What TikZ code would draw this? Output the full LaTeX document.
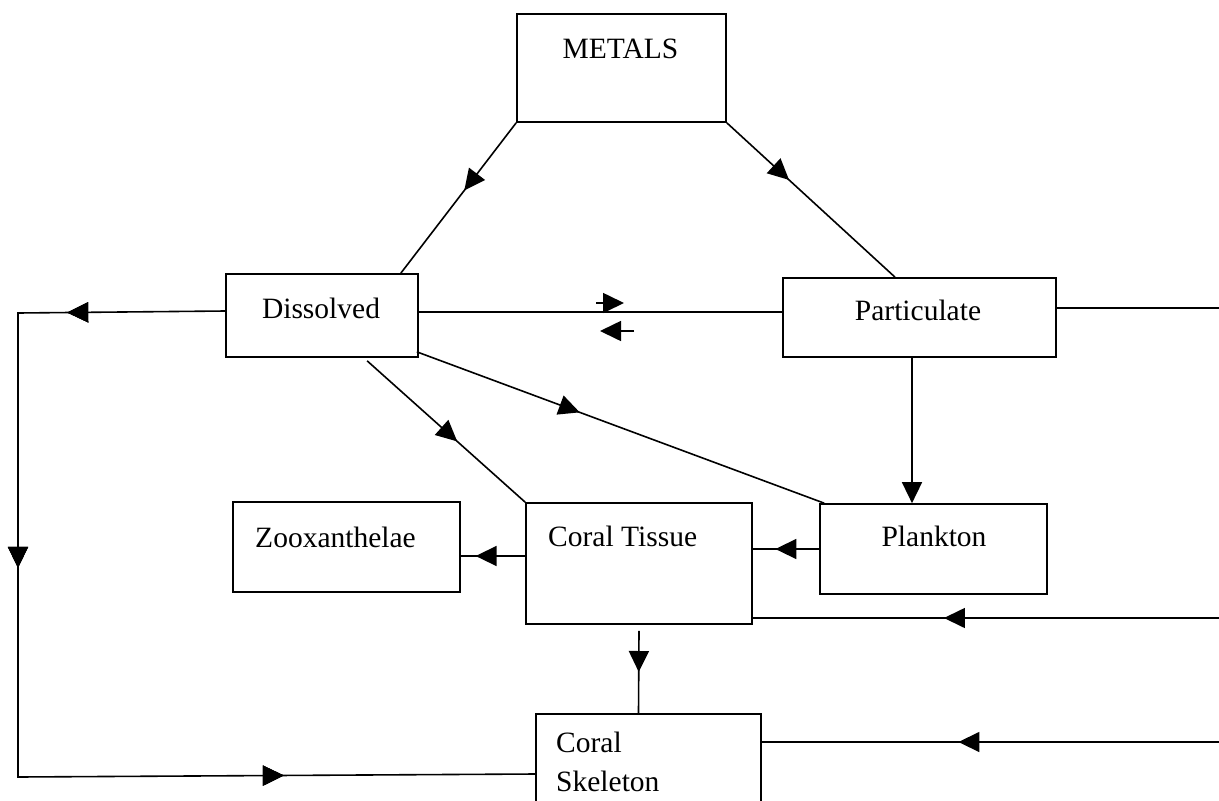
\documentclass[tikz,border=0pt]{standalone}
\usepackage{fontspec}
\setmainfont{Liberation Serif}
\usetikzlibrary{arrows.meta,decorations.markings}
\begin{document}
\begin{tikzpicture}[x=1pt,y=-1pt,
  box/.style={draw,line width=1.7pt,inner sep=0pt},
  lbl/.style={inner sep=0pt,font=\fontsize{29.5}{34}\selectfont},
  conn/.style={line width=1.6pt},
  tri/.style={-{Triangle[length=21pt,width=20pt]}},
  arrat/.style={postaction={decorate},decoration={markings,mark=at position #1 with {\arrow{Triangle[length=21pt,width=20pt]}}}}]
\useasboundingbox (0,0) rectangle (1219,801);
\clip (0,0) rectangle (1219,801);
% boxes
\node[box,minimum width=209pt,minimum height=108pt] (metals) at (621.5,68) {};
\node[box,minimum width=192pt,minimum height=83pt] (dissolved) at (322,315.5) {};
\node[box,minimum width=273pt,minimum height=79pt] (particulate) at (919.5,317.5) {};
\node[box,minimum width=227pt,minimum height=90pt] (zoox) at (346.5,547) {};
\node[box,minimum width=226pt,minimum height=121pt] (tissue) at (639,563.5) {};
\node[box,minimum width=227pt,minimum height=90pt] (plankton) at (933.5,549) {};
\node[box,minimum width=225pt,minimum height=126pt] (skeleton) at (648.5,777) {};
% texts
\node[lbl,anchor=base] (metalsT) at (620.5,58) {METALS};
\node[lbl,anchor=base] (dissolvedT) at (321,318) {Dissolved};
\node[lbl,anchor=base] (particulateT) at (918,320) {Particulate};
\node[lbl,anchor=base] (zooxT) at (335.5,547) {Zooxanthelae};
\node[lbl,anchor=base west] (tissueT) at (548,546) {Coral Tissue};
\node[lbl,anchor=base] (planktonT) at (934,546) {Plankton};
\node[lbl,anchor=base west] (skelT1) at (556,752) {Coral};
\node[lbl,anchor=base west] (skelT2) at (556,791) {Skeleton};
% helper coordinates
\coordinate (lt) at (18,313);
\coordinate (lb) at (18,777);
\coordinate (pr) at (1219,308);
\coordinate (rt) at (1219,618);
\coordinate (rs) at (1219,742);
\coordinate (sa1) at (596,303);
\coordinate (sa2) at (624,303);
\coordinate (sb1) at (634,331);
\coordinate (sb2) at (600,331);
\coordinate (tz) at ([yshift=7.5pt]tissue.west);
% connectors
\draw[conn,arrat=0.45] (metals.south west) -- ([xshift=-18pt]dissolved.north east);
\draw[conn,arrat=0.37] (metals.south east) -- ([xshift=-24.5pt]particulate.north);
\draw[conn] ([yshift=3.5pt]dissolved.east) -- ([yshift=5.5pt]particulate.west);
\draw[conn,tri] (sa1) -- (sa2);
\draw[conn,tri] (sb1) -- (sb2);
\draw[conn,arrat=0.40] ([xshift=-2pt,yshift=6pt]dissolved.south east) -- ([xshift=5pt]plankton.north west);
\draw[conn,arrat=0.57] ([xshift=142pt,yshift=-3pt]dissolved.south west) -- (tissue.north west);
\draw[conn,line join=miter,arrat=158pt,arrat=462pt,arrat=937pt] ([yshift=4.5pt]dissolved.west) -- (lt) -- (lb) -- ([yshift=3pt]skeleton.west);
\draw[conn,tri] ([xshift=-7.5pt]particulate.south) -- ([xshift=-21.5pt]plankton.north);
\draw[conn,arrat=0.66] (plankton.west) -- (plankton.west -| tissue.east);
\draw[conn,arrat=0.77] (tz) -- (tz -| zoox.east);
\draw[conn,arrat=0.5] ([yshift=-6pt]tissue.south) -- ([xshift=-10pt]skeleton.north);
\draw[conn] ([yshift=9.5pt]particulate.east) -- (pr);
\draw[conn,arrat=0.59] (rt) -- (rt -| tissue.east);
\draw[conn,arrat=0.57] (rs) -- (rs -| skeleton.east);
\end{tikzpicture}
\end{document}
